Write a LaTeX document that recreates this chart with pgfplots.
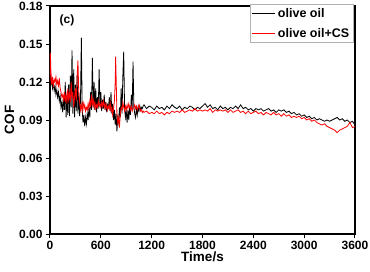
\documentclass[border=0pt]{standalone}
\usepackage{fontspec}
\setmainfont{Liberation Sans}
\usepackage{pgfplots}
\pgfplotsset{compat=1.18}
\begin{document}
\begin{tikzpicture}
\useasboundingbox (-50pt,-37pt) rectangle (320pt,234pt);
\begin{axis}[
  at={(0,0)}, anchor=origin,
  scale only axis, width=305pt, height=228pt,
  xmin=0, xmax=3600, ymin=0, ymax=0.18,
  xtick={0,600,...,3600}, ytick={0,0.03,...,0.18},
  tick align=outside, xtick pos=bottom, ytick pos=left,
  major tick length=4pt,
  every tick/.style={black, line width=1pt},
  axis line style={line width=1.2pt},
  /pgf/number format/assume math mode=true,
  xticklabel style={font=\bfseries\fontsize{12}{12}\selectfont, /pgf/number format/1000 sep={}},
  yticklabel style={font=\bfseries\fontsize{12}{12}\selectfont, /pgf/number format/fixed, /pgf/number format/precision=2, /pgf/number format/fixed zerofill},
  xlabel={\bfseries Time/s}, ylabel={\bfseries COF},
  label style={font=\bfseries\fontsize{13.5}{13.5}\selectfont},
  xlabel style={yshift=5pt},
  ylabel style={yshift=-2pt},
  legend style={at={(rel axis cs:0.995,1.008)}, anchor=north east, draw=gray!60, line width=0.6pt, font=\bfseries\fontsize{12.5}{14}\selectfont, inner sep=2pt, row sep=5pt},
  legend cell align=left,
  legend image code/.code={\draw[#1, line width=1pt] (0pt,0pt) -- (23pt,0pt);},
]
\addplot[black, line width=0.8pt] coordinates {
(0,0.125)(10,0.118)(20,0.122)(30,0.115)(40,0.119)(50,0.113)(60,0.117)(70,0.110)(80,0.114)(90,0.108)(100,0.112)(110,0.105)(120,0.109)(130,0.100)(140,0.104)(150,0.096)(160,0.108)(170,0.098)(180,0.120)(190,0.092)(200,0.110)(210,0.094)(220,0.118)(230,0.093)(240,0.125)(250,0.100)(260,0.145)(270,0.095)(280,0.130)(290,0.092)(300,0.118)(310,0.097)(320,0.125)(330,0.095)(340,0.112)(350,0.093)(360,0.105)(370,0.155)(380,0.098)(390,0.088)(400,0.094)(410,0.085)(420,0.092)(430,0.087)(440,0.095)(450,0.090)(460,0.100)(470,0.092)(480,0.112)(490,0.098)(500,0.139)(510,0.100)(520,0.120)(530,0.098)(540,0.115)(550,0.096)(560,0.108)(570,0.099)(580,0.130)(590,0.100)(600,0.112)(610,0.097)(620,0.106)(630,0.099)(640,0.110)(650,0.098)(660,0.104)(670,0.096)(680,0.102)(690,0.100)(700,0.108)(710,0.097)(720,0.112)(730,0.095)(740,0.103)(750,0.090)(760,0.098)(770,0.086)(780,0.095)(790,0.081)(800,0.092)(810,0.088)(820,0.100)(830,0.092)(840,0.115)(850,0.095)(860,0.125)(870,0.144)(880,0.100)(890,0.092)(900,0.097)(910,0.088)(920,0.098)(930,0.090)(940,0.100)(950,0.094)(960,0.110)(970,0.098)(980,0.136)(990,0.100)(1000,0.095)(1010,0.092)(1020,0.099)(1030,0.094)(1040,0.100)(1050,0.097)(1060,0.101)(1070,0.098)(1080,0.100)(1090,0.099)(1100,0.101)
(1110,0.102)(1140,0.099)(1170,0.101)(1200,0.100)(1230,0.098)(1260,0.101)(1290,0.099)(1320,0.100)(1350,0.098)(1380,0.101)(1410,0.099)(1440,0.102)(1470,0.100)(1500,0.099)(1530,0.101)(1560,0.098)(1590,0.100)(1620,0.099)(1650,0.101)(1680,0.100)(1710,0.098)(1740,0.100)(1770,0.099)(1800,0.101)(1830,0.103)(1860,0.100)(1890,0.102)(1920,0.099)(1950,0.100)(1980,0.098)(2010,0.101)(2040,0.099)(2070,0.100)(2100,0.098)(2130,0.100)(2160,0.099)(2190,0.101)(2220,0.099)(2250,0.102)(2280,0.099)(2310,0.100)(2340,0.098)(2370,0.099)(2400,0.097)(2430,0.099)(2460,0.098)(2490,0.099)(2520,0.097)(2550,0.098)(2580,0.099)(2610,0.097)(2640,0.098)(2670,0.096)(2700,0.098)(2730,0.097)(2760,0.098)(2790,0.096)(2820,0.097)(2850,0.095)(2880,0.096)(2910,0.094)(2940,0.095)(2970,0.093)(3000,0.094)(3030,0.092)(3060,0.093)(3090,0.091)(3120,0.092)(3150,0.090)(3180,0.091)(3210,0.090)(3240,0.089)(3270,0.090)(3300,0.089)(3330,0.090)(3360,0.091)(3390,0.092)(3420,0.090)(3450,0.091)(3480,0.089)(3510,0.090)(3540,0.088)(3570,0.089)(3600,0.086)
};
\addlegendentry{olive oil}
\addplot[red, line width=0.8pt] coordinates {
(0,0.120)(5,0.143)(10,0.130)(20,0.118)(30,0.124)(40,0.116)(50,0.122)(60,0.120)(70,0.124)(80,0.118)(90,0.121)(100,0.117)(110,0.123)(120,0.115)(130,0.112)(140,0.108)(150,0.110)(160,0.106)(170,0.112)(180,0.104)(190,0.110)(200,0.103)(210,0.115)(220,0.106)(230,0.111)(240,0.104)(250,0.120)(260,0.107)(270,0.112)(280,0.100)(290,0.108)(300,0.115)(310,0.105)(320,0.125)(330,0.137)(340,0.110)(350,0.104)(360,0.098)(370,0.102)(380,0.097)(390,0.105)(400,0.099)(410,0.102)(420,0.097)(430,0.100)(440,0.098)(450,0.103)(460,0.099)(470,0.105)(480,0.100)(490,0.110)(500,0.102)(510,0.106)(520,0.100)(530,0.104)(540,0.099)(550,0.102)(560,0.100)(570,0.105)(580,0.101)(590,0.103)(600,0.100)(610,0.104)(620,0.101)(630,0.105)(640,0.100)(650,0.103)(660,0.099)(670,0.102)(680,0.098)(690,0.101)(700,0.099)(710,0.104)(720,0.097)(730,0.100)(740,0.094)(750,0.099)(760,0.105)(770,0.120)(775,0.140)(785,0.110)(790,0.095)(800,0.088)(810,0.092)(820,0.084)(830,0.095)(840,0.100)(850,0.098)(860,0.104)(870,0.100)(880,0.097)(890,0.101)(900,0.098)(910,0.102)(920,0.099)(930,0.103)(940,0.100)(950,0.098)(960,0.101)(970,0.097)(980,0.099)(990,0.100)(1000,0.102)(1010,0.099)(1020,0.101)(1030,0.098)(1040,0.100)(1050,0.102)(1060,0.099)(1070,0.097)(1080,0.098)(1090,0.096)(1100,0.097)
(1110,0.096)(1140,0.097)(1170,0.095)(1200,0.096)(1230,0.095)(1260,0.097)(1290,0.095)(1320,0.096)(1350,0.094)(1380,0.096)(1410,0.095)(1440,0.097)(1470,0.096)(1500,0.097)(1530,0.096)(1560,0.098)(1590,0.096)(1620,0.097)(1650,0.098)(1680,0.097)(1710,0.099)(1740,0.097)(1770,0.098)(1800,0.097)(1830,0.098)(1860,0.097)(1890,0.099)(1920,0.096)(1950,0.098)(1980,0.097)(2010,0.098)(2040,0.097)(2070,0.098)(2100,0.096)(2130,0.098)(2160,0.096)(2190,0.097)(2220,0.098)(2250,0.096)(2280,0.097)(2310,0.095)(2340,0.097)(2370,0.095)(2400,0.096)(2430,0.097)(2460,0.095)(2490,0.096)(2520,0.094)(2550,0.096)(2580,0.095)(2610,0.094)(2640,0.096)(2670,0.094)(2700,0.095)(2730,0.093)(2760,0.095)(2790,0.093)(2820,0.094)(2850,0.092)(2880,0.093)(2910,0.092)(2940,0.093)(2970,0.091)(3000,0.092)(3030,0.090)(3060,0.091)(3090,0.089)(3120,0.090)(3150,0.088)(3180,0.087)(3210,0.086)(3240,0.087)(3270,0.085)(3300,0.084)(3330,0.083)(3360,0.082)(3390,0.080)(3420,0.082)(3450,0.083)(3480,0.084)(3510,0.085)(3540,0.088)(3570,0.084)(3600,0.085)
};
\addlegendentry{olive oil+CS}
\node[anchor=north west, font=\bfseries\fontsize{12}{12}\selectfont] at (rel axis cs:0.02,0.975) {(c)};
\end{axis}
\end{tikzpicture}
\end{document}
